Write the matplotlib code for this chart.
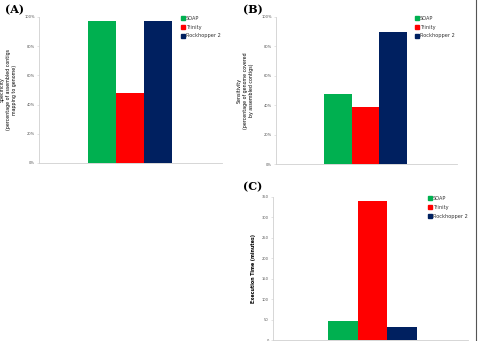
import matplotlib
matplotlib.use("Agg")
import matplotlib.pyplot as plt
from matplotlib.lines import Line2D
from matplotlib.ticker import FuncFormatter

# data
tools = ["SOAP", "Trinity", "Rockhopper 2"]
colors = ["#00B050", "#FF0000", "#002060"]
specificity = [0.97, 0.48, 0.97]
sensitivity = [0.476, 0.39, 0.90]
exec_time = [46, 339, 32]

W, H = 479, 341
fig = plt.figure(figsize=(W / 100, H / 100), dpi=100)
fig.patch.set_facecolor("white")


def px_axes(x0, x1, ytop, ybot):
    return fig.add_axes([x0 / W, 1 - ybot / H, (x1 - x0) / W, (ybot - ytop) / H])


def style(ax):
    for s in ["top", "right"]:
        ax.spines[s].set_visible(False)
    for s in ["left", "bottom"]:
        ax.spines[s].set_color("#d0d0d0")
        ax.spines[s].set_linewidth(0.6)
    ax.set_xticks([])
    ax.tick_params(axis="y", length=1.5, width=0.4, color="#d0d0d0",
                   labelsize=2.6, labelcolor="#555555", pad=1.5)


def bars(ax, vals, xlim):
    for i, (v, c) in enumerate(zip(vals, colors)):
        ax.bar(i - 1, v, width=1.0, color=c, label=tools[i])
    ax.set_xlim(*xlim)


def legend(ax, x, y):
    handles = [Line2D([], [], marker="s", linestyle="none", markersize=2.6,
                      markerfacecolor=c, markeredgecolor=c) for c in colors]
    ax.legend(handles, tools, loc="upper left", bbox_to_anchor=(x / W, 1 - y / H),
              bbox_transform=fig.transFigure, frameon=False, fontsize=3.6,
              handlelength=0.6, handletextpad=0.4, labelspacing=0.75,
              borderpad=0, borderaxespad=0, labelcolor="#333333")


pct = FuncFormatter(lambda v, p: f"{int(round(v * 100))}%")

# (A) specificity
axA = px_axes(39, 222, 17, 163)
bars(axA, specificity, (-3.25, 3.29))
axA.set_ylim(0, 1)
axA.set_yticks([0, 0.2, 0.4, 0.6, 0.8, 1.0])
axA.yaxis.set_major_formatter(pct)
style(axA)
axA.set_ylabel("Specificity\n(percentage of assembled contigs\nmapping to genome)",
               fontsize=3.4, labelpad=5, linespacing=1.3)
legend(axA, 181, 16)
fig.text(5 / W, 1 - 10 / H, "(A)", fontsize=8, fontweight="bold",
         family="DejaVu Serif", va="center")

# (B) sensitivity
axB = px_axes(276, 457, 17, 164)
bars(axB, sensitivity, (-3.23, 3.30))
axB.set_ylim(0, 1)
axB.set_yticks([0, 0.2, 0.4, 0.6, 0.8, 1.0])
axB.yaxis.set_major_formatter(pct)
style(axB)
axB.set_ylabel("Sensitivity\n(percentage of genome covered\nby assembled contigs)",
               fontsize=3.4, labelpad=5, linespacing=1.3)
legend(axB, 415, 16)
fig.text(243 / W, 1 - 10 / H, "(B)", fontsize=8, fontweight="bold",
         family="DejaVu Serif", va="center")

# (C) execution time
axC = px_axes(273, 468, 197, 340)
bars(axC, exec_time, (-3.35, 3.22))
axC.set_ylim(0, 350)
axC.set_yticks(range(0, 351, 50))
style(axC)
axC.set_ylabel("Execution Time (minutes)", fontsize=3.4, fontweight="bold",
               labelpad=4)
legend(axC, 428, 196)
fig.text(243 / W, 1 - 187 / H, "(C)", fontsize=8, fontweight="bold",
         family="DejaVu Serif", va="center")

# right border of the page
fig.add_artist(Line2D([476 / W, 476 / W], [0, 1], transform=fig.transFigure,
                      color="#555555", linewidth=0.8))

fig.savefig("out.png", dpi=100, facecolor="white")
